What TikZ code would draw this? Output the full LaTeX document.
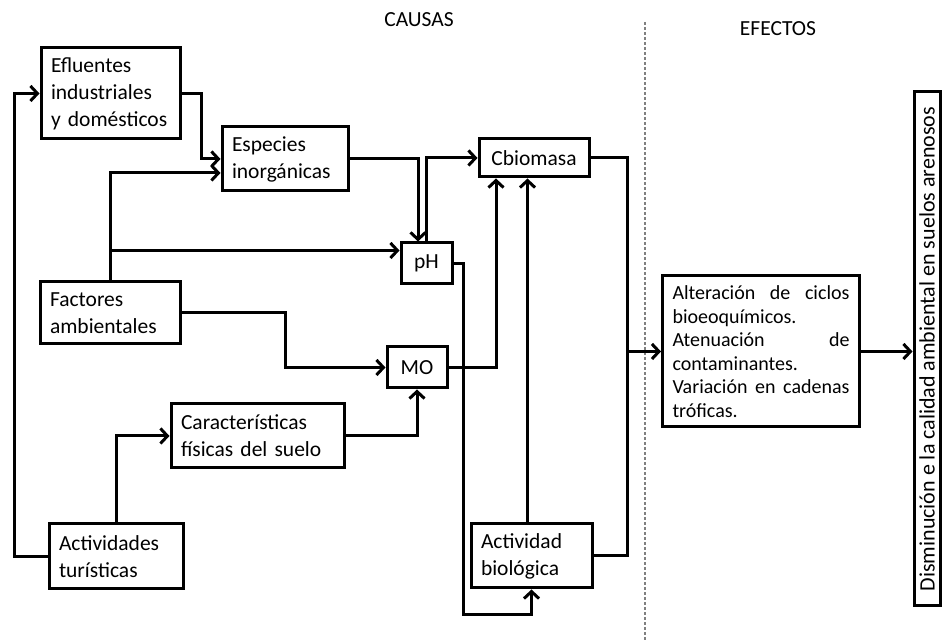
\documentclass[tikz,border=0pt]{standalone}
\usepackage{fontspec}
\setmainfont{Carlito}
\usepackage{graphicx}
\usepackage{tikz}
\usetikzlibrary{arrows.meta}

\begin{document}
\begin{tikzpicture}[x=0.5pt, y=0.5pt, line width=1.5pt,
  >={Straight Barb[length=3.5pt,width=7.5pt]},
  box/.style = {draw, inner xsep=5pt, inner ysep=0pt, align=left, font=\fontsize{10.75}{13.5}\selectfont},
  small/.style = {draw, inner sep=0pt, align=center, font=\fontsize{10.75}{13.5}\selectfont},
  title/.style = {font=\fontsize{10.75}{13.5}\selectfont}]
\useasboundingbox (0,0) rectangle (943,640);
\node[title] (causas) at (419,620) {CAUSAS};
\node[title] (efectos) at (778,611) {EFECTOS};
\draw[gray, line width=0.6pt, dash pattern=on 1.5pt off 1pt] (645,618) -- (645,0);
\node[box, text width=59.5pt, minimum height=45.5pt] (efl) at (110.5,546.5) {Efluentes\\industriales\\y domésticos};
\node[box, text width=53pt, minimum height=32pt] (esp) at (285,481) {Especies\\inorgánicas};
\node[small, minimum width=55pt, minimum height=19pt] (cbio) at (534,482) {Cbiomasa};
\node[small, minimum width=25.5pt, minimum height=20.5pt] (ph) at (426.5,376.5) {pH};
\node[box, text width=60pt, minimum height=31pt] (fac) at (110,327) {Factores\\ambientales};
\node[small, minimum width=30pt, minimum height=20.5pt] (mo) at (417,272.5) {MO};
\node[box, text width=76.5pt, minimum height=32pt] (car) at (257.5,204) {Características\\físicas del suelo};
\node[box, text width=57pt, minimum height=32.5pt] (act) at (116,83.5) {Actividades\\turísticas};
\node[box, text width=50.5pt, minimum height=32pt] (bio) at (531.5,84) {Actividad\\biológica};
\node[box, text width=88.5pt, minimum height=75.5pt, font=\fontsize{10}{11.75}\selectfont] (alt) at (761,288.5)
  {Alteración\hfill de\hfill ciclos\\bioeoquímicos.\\Atenuación\hfill de\\contaminantes.\\Variación\hfill en\hfill cadenas\\tróficas.};
\node[small, minimum width=13pt, minimum height=257pt, font=\fontsize{11}{13.5}\selectfont] (dis) at (927,291)
  {\rotatebox{90}{Disminución e la calidad ambiental en suelos arenosos}};
\draw[->] (act.west) -- ++(-33,0) |- (efl.west);
\draw[->] (efl.east) -- ++(20,0) |- (esp.west);
\draw[->] (fac.north) |- ([yshift=-7pt]esp.west);
\draw[->] ([yshift=15pt]fac.north) -- ([yshift=15pt]fac.north -| ph.west);
\draw[->] (fac.east) -- ++(104,0) |- (mo.west);
\draw[->] (act.north) |- (car.west);
\draw[->] (car.east) -| (mo.south);
\draw[->] (esp.east) -| ([xshift=-4.25pt]ph.north);
\draw[->] (ph.north) |- (cbio.west);
\draw[->] (ph.east) -- ++(10,0) |- ([yshift=-12.5pt]bio.south) -- (bio.south);
\draw[->] (mo.east) -| ([xshift=-19pt]cbio.south);
\draw[->] ([xshift=-2pt]bio.north) -- ([xshift=-2pt]bio.north |- cbio.south);
\draw (cbio.east) -- ++(37,0) coordinate (jn) |- (bio.east);
\draw[->] (jn |- alt.west) -- (alt.west);
\draw[->] (alt.east) -- (alt.east -| dis.west);
\end{tikzpicture}
\end{document}
